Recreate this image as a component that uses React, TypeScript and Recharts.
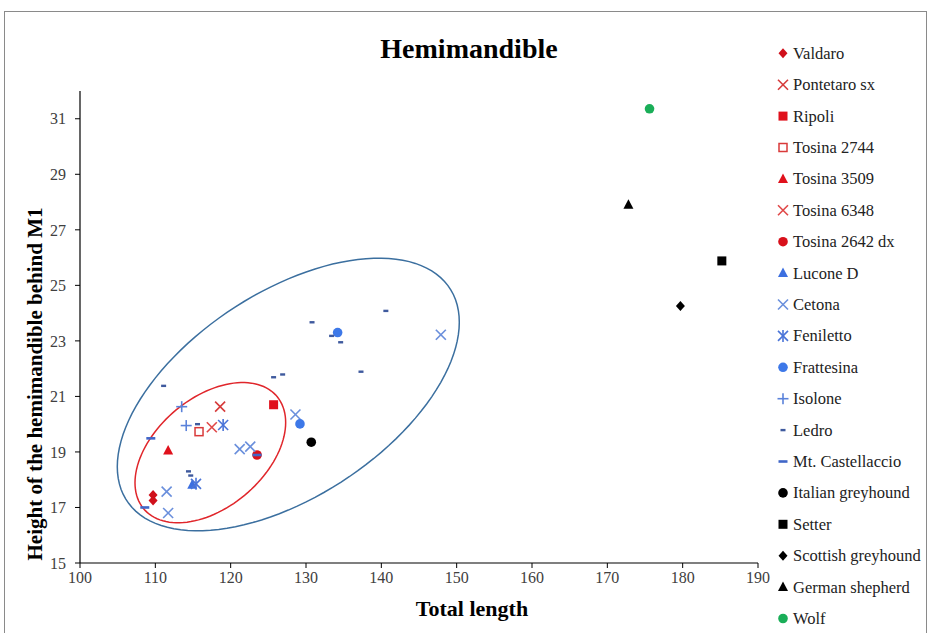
import React from 'react';
import { ScatterChart, Scatter, XAxis, YAxis, ReferenceArea } from 'recharts';

type Pt = { x: number; y: number };

// values (Total length, Height behind M1)
const valdaro: Pt[] = [{ x: 109.7, y: 17.45 }, { x: 109.7, y: 17.25 }];
const pontetaroSx: Pt[] = [{ x: 118.6, y: 20.63 }];
const ripoli: Pt[] = [{ x: 125.7, y: 20.7 }];
const tosina2744: Pt[] = [{ x: 115.8, y: 19.73 }];
const tosina3509: Pt[] = [{ x: 111.7, y: 19.05 }];
const tosina6348: Pt[] = [{ x: 117.5, y: 19.89 }];
const tosina2642dx: Pt[] = [{ x: 123.5, y: 18.89 }];
const luconeD: Pt[] = [{ x: 114.9, y: 17.82 }];
const cetona: Pt[] = [
  { x: 111.5, y: 17.57 }, { x: 111.7, y: 16.8 }, { x: 121.2, y: 19.1 },
  { x: 122.6, y: 19.19 }, { x: 128.6, y: 20.35 }, { x: 147.9, y: 23.22 },
];
const feniletto: Pt[] = [{ x: 119.0, y: 19.97 }, { x: 115.4, y: 17.85 }];
const frattesina: Pt[] = [{ x: 129.2, y: 20.01 }, { x: 134.2, y: 23.3 }];
const isolone: Pt[] = [{ x: 113.5, y: 20.63 }, { x: 114.1, y: 19.95 }];
const ledro: Pt[] = [
  { x: 115.6, y: 20.0 }, { x: 111.1, y: 21.38 }, { x: 125.7, y: 21.69 }, { x: 126.9, y: 21.79 },
  { x: 130.8, y: 23.67 }, { x: 140.6, y: 24.08 }, { x: 134.6, y: 22.95 }, { x: 133.4, y: 23.18 },
  { x: 137.3, y: 21.89 }, { x: 114.4, y: 18.3 }, { x: 114.7, y: 18.15 },
];
const mtCastellaccio: Pt[] = [{ x: 109.4, y: 19.49 }, { x: 108.6, y: 17.0 }, { x: 123.5, y: 18.89 }];
const italianGreyhound: Pt[] = [{ x: 130.7, y: 19.35 }];
const setter: Pt[] = [{ x: 185.2, y: 25.88 }];
const scottishGreyhound: Pt[] = [{ x: 179.7, y: 24.26 }];
const germanShepherd: Pt[] = [{ x: 172.8, y: 27.9 }];
const wolf: Pt[] = [{ x: 175.6, y: 31.36 }];

const xTicks = [100, 110, 120, 130, 140, 150, 160, 170, 180, 190];
const yTicks = [15, 17, 19, 21, 23, 25, 27, 29, 31];

// ellipses drawn by hand in the original, given as data-space bounding boxes + tilt
const blueEllipse = { x1: 104.95, x2: 150.35, y1: 16.16, y2: 25.98, tilt: 0.53 };
const redEllipse = { x1: 107.3, x2: 127.3, y1: 16.45, y2: 21.5, tilt: 0.43 };

type Kind = 'diamond' | 'x' | 'square' | 'squareOpen' | 'triangle' | 'circle' | 'star' | 'plus' | 'dot' | 'dash';

const series: { name: string; data: Pt[]; kind: Kind; color: string }[] = [
  { name: 'Valdaro', data: valdaro, kind: 'diamond', color: '#d0101b' },
  { name: 'Pontetaro sx', data: pontetaroSx, kind: 'x', color: '#d63a3a' },
  { name: 'Ripoli', data: ripoli, kind: 'square', color: '#e0111c' },
  { name: 'Tosina 2744', data: tosina2744, kind: 'squareOpen', color: '#d93a3a' },
  { name: 'Tosina 3509', data: tosina3509, kind: 'triangle', color: '#e0111c' },
  { name: 'Tosina 6348', data: tosina6348, kind: 'x', color: '#e04848' },
  { name: 'Tosina 2642 dx', data: tosina2642dx, kind: 'circle', color: '#d8101b' },
  { name: 'Lucone D', data: luconeD, kind: 'triangle', color: '#3c6fe0' },
  { name: 'Cetona', data: cetona, kind: 'x', color: '#6a8fdc' },
  { name: 'Feniletto', data: feniletto, kind: 'star', color: '#4a74d8' },
  { name: 'Frattesina', data: frattesina, kind: 'circle', color: '#3d78e8' },
  { name: 'Isolone', data: isolone, kind: 'plus', color: '#5a82da' },
  { name: 'Ledro', data: ledro, kind: 'dot', color: '#3f5a9e' },
  { name: 'Mt. Castellaccio', data: mtCastellaccio, kind: 'dash', color: '#4066c8' },
  { name: 'Italian greyhound', data: italianGreyhound, kind: 'circle', color: '#000000' },
  { name: 'Setter', data: setter, kind: 'square', color: '#000000' },
  { name: 'Scottish greyhound', data: scottishGreyhound, kind: 'diamond', color: '#000000' },
  { name: 'German shepherd', data: germanShepherd, kind: 'triangle', color: '#000000' },
  { name: 'Wolf', data: wolf, kind: 'circle', color: '#1aae58' },
];

const FONT = '"Liberation Serif", "Times New Roman", serif';

const Marker = ({ kind, color, cx, cy }: { kind: Kind; color: string; cx: number; cy: number }) => {
  switch (kind) {
    case 'diamond':
      return <path d={`M${cx},${cy - 5}L${cx + 4.5},${cy}L${cx},${cy + 5}L${cx - 4.5},${cy}Z`} fill={color} />;
    case 'x':
      return (
        <g stroke={color} strokeWidth={1.6}>
          <line x1={cx - 5} y1={cy - 5} x2={cx + 5} y2={cy + 5} />
          <line x1={cx - 5} y1={cy + 5} x2={cx + 5} y2={cy - 5} />
        </g>
      );
    case 'star':
      return (
        <g stroke={color} strokeWidth={1.6}>
          <line x1={cx - 5} y1={cy - 5} x2={cx + 5} y2={cy + 5} />
          <line x1={cx - 5} y1={cy + 5} x2={cx + 5} y2={cy - 5} />
          <line x1={cx} y1={cy - 6} x2={cx} y2={cy + 6} />
        </g>
      );
    case 'plus':
      return (
        <g stroke={color} strokeWidth={1.6}>
          <line x1={cx - 5.5} y1={cy} x2={cx + 5.5} y2={cy} />
          <line x1={cx} y1={cy - 5.5} x2={cx} y2={cy + 5.5} />
        </g>
      );
    case 'square':
      return <rect x={cx - 4.5} y={cy - 4.5} width={9} height={9} fill={color} />;
    case 'squareOpen':
      return <rect x={cx - 4} y={cy - 4} width={8} height={8} fill="#fff" stroke={color} strokeWidth={1.5} />;
    case 'triangle':
      return <path d={`M${cx},${cy - 5.5}L${cx + 5},${cy + 4}L${cx - 5},${cy + 4}Z`} fill={color} />;
    case 'circle':
      return <circle cx={cx} cy={cy} r={4.8} fill={color} />;
    case 'dot':
      return <rect x={cx - 2.5} y={cy - 1.2} width={5} height={2.4} fill={color} />;
    case 'dash':
      return <rect x={cx - 4.5} y={cy - 1.3} width={9} height={2.6} fill={color} />;
  }
  return null;
};

// ellipse inscribed in the reference-area box; tilt = correlation of the two axes
const ellipseShape = (tilt: number, color: string) => (p: any) => {
  const a = p.width / 2;
  const b = p.height / 2;
  const cx = p.x + a;
  const cy = p.y + b;
  const phi = Math.acos(tilt);
  let d = '';
  for (let i = 0; i <= 120; i++) {
    const t = (i / 120) * Math.PI * 2;
    const px = cx + a * Math.cos(t);
    const py = cy - b * Math.cos(t - phi);
    d += `${i === 0 ? 'M' : 'L'}${px.toFixed(2)},${py.toFixed(2)}`;
  }
  return <path d={d + 'Z'} fill="none" stroke={color} strokeWidth={1.5} />;
};

const tickStyle = { fontFamily: FONT, fontSize: 16, fill: '#404040' };

export default function App() {
  return (
    <div style={{ position: 'absolute', left: 0, top: 0, width: 927, height: 633, background: '#fff', overflow: 'hidden' }}>
      <div style={{ position: 'absolute', left: 4, top: 11, width: 921, height: 640, border: '1px solid #8a8a8a' }} />
      <div style={{ position: 'absolute', left: 0, top: 0 }}>
        <ScatterChart width={927} height={633} margin={{ top: 91, right: 169, bottom: 40, left: 30 }}>
          <XAxis
            type="number"
            dataKey="x"
            domain={[100, 190]}
            ticks={xTicks}
            height={30}
            tick={tickStyle}
            tickSize={5}
            tickMargin={4}
            axisLine={{ stroke: '#000', strokeWidth: 1.2 }}
            tickLine={{ stroke: '#000' }}
            allowDataOverflow
          />
          <YAxis
            type="number"
            dataKey="y"
            domain={[15, 32]}
            ticks={yTicks}
            width={50}
            tick={tickStyle}
            tickSize={5}
            tickMargin={9}
            axisLine={{ stroke: '#000', strokeWidth: 1.2 }}
            tickLine={{ stroke: '#000' }}
            allowDataOverflow
          />
          <ReferenceArea
            x1={blueEllipse.x1}
            x2={blueEllipse.x2}
            y1={blueEllipse.y1}
            y2={blueEllipse.y2}
            ifOverflow="visible"
            shape={ellipseShape(blueEllipse.tilt, '#3b6f9f')}
          />
          <ReferenceArea
            x1={redEllipse.x1}
            x2={redEllipse.x2}
            y1={redEllipse.y1}
            y2={redEllipse.y2}
            ifOverflow="visible"
            shape={ellipseShape(redEllipse.tilt, '#e0262b')}
          />
          {series.map((s) => (
            <Scatter
              key={s.name}
              name={s.name}
              data={s.data}
              isAnimationActive={false}
              shape={(p: any) => <Marker kind={s.kind} color={s.color} cx={p.cx} cy={p.cy} />}
            />
          ))}
        </ScatterChart>
      </div>
      <svg width={927} height={633} style={{ position: 'absolute', left: 0, top: 0, pointerEvents: 'none' }}>
        <text x={469} y={48} textAnchor="middle" dominantBaseline="central" fontFamily={FONT} fontSize={28} fontWeight="bold" fill="#000">
          Hemimandible
        </text>
        <text x={472} y={608} textAnchor="middle" dominantBaseline="central" fontFamily={FONT} fontSize={22} fontWeight="bold" fill="#000">
          Total length
        </text>
        <text
          x={35}
          y={384}
          transform="rotate(-90 35 384)"
          textAnchor="middle"
          dominantBaseline="central"
          fontFamily={FONT}
          fontSize={21}
          fontWeight="bold"
          fill="#000"
        >
          Height of the hemimandible behind M1
        </text>
        {series.map((s, i) => {
          const yc = 53.3 + i * 31.4;
          return (
            <g key={s.name}>
              <Marker kind={s.kind} color={s.color} cx={783} cy={yc} />
              <text x={793} y={yc} dominantBaseline="central" fontFamily={FONT} fontSize={16.5} fill="#222">
                {s.name}
              </text>
            </g>
          );
        })}
      </svg>
    </div>
  );
}
